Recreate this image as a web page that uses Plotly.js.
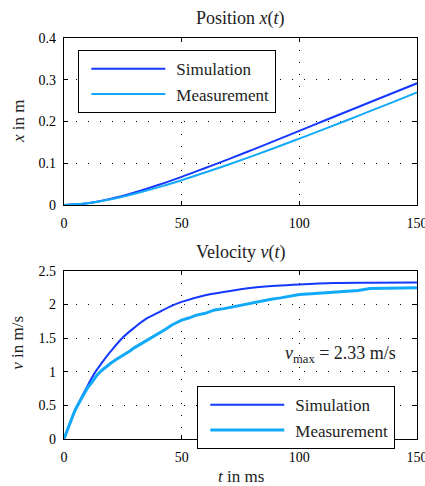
<!DOCTYPE html>
<html>
<head>
<meta charset="utf-8">
<script src="https://cdn.plot.ly/plotly-3.0.1.min.js"></script>
<style>
html,body{margin:0;padding:0;background:#fff;}
#chart{width:425px;height:486px;}
</style>
</head>
<body>
<div id="chart"></div>
<script>
// Time axis (ms) and series
const tSim = [0, 2, 4, 6, 8, 10, 13, 16, 20, 25, 30, 35, 40, 45, 50, 60, 70, 80, 90, 100, 115, 130, 150];
const vSim = [0, 0.19, 0.36, 0.52, 0.66, 0.79, 0.98, 1.13, 1.31, 1.51, 1.66, 1.79, 1.88, 1.97, 2.04, 2.14, 2.20, 2.25, 2.28, 2.30, 2.32, 2.325, 2.33];

const tMeas = [0, 1, 2, 3, 4, 5, 6, 7, 8, 9, 10, 12, 14, 16, 18, 20, 22, 24, 26, 28, 30, 32, 34, 36, 38, 40, 43, 46, 50, 53, 56, 60, 64, 68, 72, 76, 80, 84, 88, 92, 96, 100, 105, 110, 115, 120, 125, 130, 135, 140, 145, 150];
const vMeas = [0, 0.10, 0.20, 0.29, 0.37, 0.45, 0.52, 0.58, 0.64, 0.70, 0.76, 0.85, 0.95, 1.02, 1.08, 1.13, 1.18, 1.22, 1.27, 1.31, 1.36, 1.40, 1.45, 1.48, 1.53, 1.57, 1.63, 1.70, 1.77, 1.80, 1.84, 1.87, 1.92, 1.94, 1.97, 2.00, 2.03, 2.05, 2.08, 2.10, 2.12, 2.15, 2.16, 2.17, 2.19, 2.20, 2.21, 2.24, 2.24, 2.245, 2.25, 2.25];

const tPos = [0, 10, 20, 30, 40, 50, 60, 70, 80, 90, 100, 110, 120, 130, 140, 150];
const xSim = [0, 0.0042, 0.0150, 0.0300, 0.0478, 0.0675, 0.0885, 0.1100, 0.1322, 0.1548, 0.1775, 0.2005, 0.2233, 0.2460, 0.2688, 0.2915];
const xMeas = [0, 0.0041, 0.0138, 0.0270, 0.0423, 0.0594, 0.0780, 0.0972, 0.1170, 0.1377, 0.1590, 0.1805, 0.2025, 0.2247, 0.2470, 0.2695];

const xTicks = [0, 50, 100, 150];
const posTicks = [0, 0.1, 0.2, 0.3, 0.4];
const velTicks = [0, 0.5, 1, 1.5, 2, 2.5];
const seriesNames = ["Simulation", "Measurement"];
const vMax = 2.33;

const cSim = "#1438ff";
const cMeas = "#12aaf8";
const fam = "Liberation Serif";

const traces = [
  {x: tPos, y: xSim, name: seriesNames[0], mode: "lines", line: {color: cSim, width: 2, shape: "spline"}, xaxis: "x", yaxis: "y", legend: "legend"},
  {x: tPos, y: xMeas, name: seriesNames[1], mode: "lines", line: {color: cMeas, width: 2, shape: "spline"}, xaxis: "x", yaxis: "y", legend: "legend"},
  {x: tSim, y: vSim, name: seriesNames[0], mode: "lines", line: {color: cSim, width: 2, shape: "spline"}, xaxis: "x2", yaxis: "y2", legend: "legend2"},
  {x: tMeas, y: vMeas, name: seriesNames[1], mode: "lines", line: {color: cMeas, width: 3}, xaxis: "x2", yaxis: "y2", legend: "legend2"}
];

const axisCommon = {
  showline: true, linecolor: "#000", linewidth: 1.2, mirror: "ticks",
  ticks: "inside", ticklen: 4, tickcolor: "#000",
  showgrid: true, gridcolor: "#000", gridwidth: 1, griddash: "1px,11px",
  zeroline: false, tickfont: {family: fam, size: 14, color: "#000"},
  ticklabeloverflow: "allow"
};
const xAx = {ticklabelstandoff: 5};
const yAx = {ticklabelstandoff: 4};

const legendCommon = {xanchor: "left", yanchor: "top", bgcolor: "#fff", bordercolor: "#000", borderwidth: 1.2,
  font: {family: fam, size: 17, color: "#222"}, tracegroupgap: 0, itemwidth: 87};

const titleFont = {family: fam, size: 18, color: "#222"};
const labelFont = {family: fam, size: 17, color: "#222"};

const layout = {
  width: 425, height: 486,
  margin: {l: 64, r: 8, t: 38, b: 47},
  paper_bgcolor: "#fff", plot_bgcolor: "#fff",
  font: {family: fam, color: "#000"},
  xaxis: Object.assign({}, axisCommon, xAx, {domain: [0, 1], range: [0, 150], tickvals: xTicks, anchor: "y"}),
  yaxis: Object.assign({}, axisCommon, yAx, {domain: [0.5835, 1], range: [0, 0.4], tickvals: posTicks, anchor: "x"}),
  xaxis2: Object.assign({}, axisCommon, xAx, {domain: [0, 1], range: [0, 150], tickvals: xTicks, anchor: "y2"}),
  yaxis2: Object.assign({}, axisCommon, yAx, {domain: [0, 0.419], range: [0, 2.5], tickvals: velTicks, anchor: "x2"}),
  legend: Object.assign({}, legendCommon, {x: 0.04, y: 0.97}),
  legend2: Object.assign({}, legendCommon, {x: 0.377, y: 0.132}),
  showlegend: true,
  annotations: [
    {text: "Position <i>x</i>(<i>t</i>)", xref: "paper", yref: "paper", x: 0.5, y: 1, yshift: 20, xanchor: "center", yanchor: "middle", showarrow: false, font: titleFont},
    {text: "Velocity <i>v</i>(<i>t</i>)", xref: "paper", yref: "paper", x: 0.5, y: 0.419, yshift: 18, xanchor: "center", yanchor: "middle", showarrow: false, font: titleFont},
    {text: "<i>t</i> in ms", xref: "paper", yref: "paper", x: 0.5, y: 0, yshift: -37, xanchor: "center", yanchor: "middle", showarrow: false, font: labelFont},
    {text: "<i>x</i> in m", xref: "paper", yref: "paper", x: 0, xshift: -46, y: 0.793, textangle: -90, xanchor: "center", yanchor: "middle", showarrow: false, font: labelFont},
    {text: "<i>v</i> in m/s", xref: "paper", yref: "paper", x: 0, xshift: -46, y: 0.24, textangle: -90, xanchor: "center", yanchor: "middle", showarrow: false, font: labelFont},
    {text: "<i>v</i><sub>max</sub> = " + vMax.toFixed(2) + " m/s", xref: "x2", yref: "y2", x: 142, y: 1.25, xanchor: "right", yanchor: "middle", showarrow: false, font: {family: fam, size: 18, color: "#222"}}
  ]
};

Plotly.newPlot("chart", traces, layout, {displayModeBar: false, staticPlot: true}).then(function (gd) {
  // lengthen legend line samples to match the reference look
  gd.querySelectorAll(".legendlines path").forEach(function (p) {
    p.setAttribute("d", "M12,0h74");
  });
});
</script>
</body>
</html>
